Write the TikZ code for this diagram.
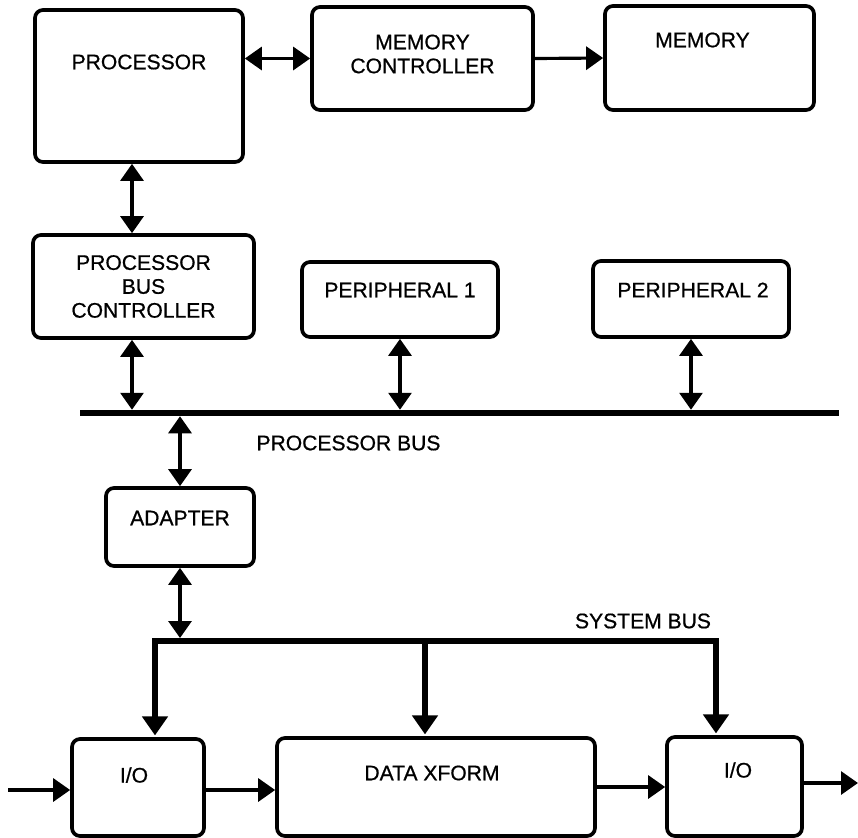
\documentclass[tikz,border=0pt]{standalone}
\usepackage{fontspec}
\setmainfont{Liberation Sans}[FakeBold=0.7]
\usetikzlibrary{positioning,calc,arrows.meta}

\begin{document}
\begin{tikzpicture}[
        box/.style={rectangle, draw=black, line width=2.1pt, rounded corners=0.16cm, inner sep=0pt},
        every label/.style={font=\fontsize{12}{13.6}\selectfont, inner sep=0pt, align=center},
        buslabel/.style={font=\fontsize{12}{13.6}\selectfont, inner sep=0pt},
        arrow/.style={-{Triangle[length=0.34cm, width=0.46cm]}, line width=1.8pt},
        biarrow/.style={{Triangle[length=0.34cm, width=0.46cm]}-{Triangle[length=0.34cm, width=0.46cm]}, line width=1.8pt},
        bus/.style={line width=3.7pt},
        sysbus/.style={line width=3.4pt},
        sysarrow/.style={-{Triangle[length=0.38cm, width=0.5cm]}, line width=3.4pt}
        ]
        \useasboundingbox (0,0) rectangle (17.16,-16.76);

        % Top row: processor and memory
        \node[box, minimum width=4.16cm, minimum height=3.04cm, label={[yshift=0.48cm]center:PROCESSOR}] (proc) at (2.78,-1.72) {};
        \node[box, minimum width=4.42cm, minimum height=2.06cm, label={[yshift=0.09cm]center:MEMORY\\CONTROLLER}] (memctrl) at (8.45,-1.17) {};
        \node[box, minimum width=4.18cm, minimum height=2.08cm, label={[yshift=0.36cm, xshift=-0.14cm]center:MEMORY}] (mem) at (14.19,-1.16) {};

        % Processor bus devices
        \node[box, minimum width=4.42cm, minimum height=2.06cm, label={center:PROCESSOR\\BUS\\CONTROLLER}] (pbc) at (2.87,-5.73) {};
        \node[box, minimum width=3.92cm, minimum height=1.5cm, label={[yshift=0.19cm]center:PERIPHERAL 1}] (per1) at (8.0,-5.99) {};
        \node[box, minimum width=3.92cm, minimum height=1.52cm, label={[yshift=0.18cm, xshift=0.04cm]center:PERIPHERAL 2}] (per2) at (13.82,-5.98) {};

        % Processor bus
        \coordinate (pbusL) at (1.6,-8.26);
        \coordinate (pbusR) at (16.78,-8.26);
        \draw[bus] (pbusL) -- (pbusR);
        \node[buslabel] (pbuslabel) at (6.97,-8.86) {PROCESSOR BUS};

        % Adapter
        \node[box, minimum width=2.96cm, minimum height=1.56cm, label={[yshift=0.18cm]center:ADAPTER}] (adapter) at (3.6,-10.54) {};

        % System bus
        \coordinate (sysL) at (3.1,-12.82);
        \coordinate (sysM) at (8.5,-12.82);
        \coordinate (sysR) at (14.32,-12.82);
        \node[buslabel] (sysbuslabel) at (12.86,-12.42) {SYSTEM BUS};

        % Bottom row: data path
        \node[box, minimum width=2.64cm, minimum height=1.94cm, label={[yshift=0.25cm, xshift=-0.08cm]center:I/O}] (io1) at (2.76,-15.75) {};
        \node[box, minimum width=6.36cm, minimum height=1.96cm, label={[yshift=0.28cm, xshift=-0.08cm]center:DATA XFORM}] (xform) at (8.72,-15.74) {};
        \node[box, minimum width=2.7cm, minimum height=1.98cm, label={[yshift=0.33cm, xshift=0.07cm]center:I/O}] (io2) at (14.69,-15.73) {};
        \coordinate (in) at (0.16,-15.8);
        \coordinate (out) at (17.16,-15.66);

        % Connections
        \draw[biarrow] (memctrl.west -| proc.east) -- (memctrl.west);
        \draw[arrow] (memctrl.east) -- (mem.west);
        \draw[biarrow] ([xshift=-0.14cm]proc.south) -- ([xshift=-0.14cm]proc.south |- pbc.north);
        \draw[biarrow, shorten >=1.85pt] ([xshift=-0.23cm]pbc.south) -- ([xshift=-0.23cm]pbc.south |- pbusL);
        \draw[biarrow, shorten >=1.85pt] (per1.south) -- (per1.south |- pbusL);
        \draw[biarrow, shorten >=1.85pt] (per2.south) -- (per2.south |- pbusL);
        \draw[biarrow, shorten <=1.85pt] (adapter.north |- pbusL) -- (adapter.north);
        \draw[biarrow, shorten >=1.7pt] (adapter.south) -- (adapter.south |- sysL);
        \draw[sysbus, {Triangle[length=0.38cm, width=0.5cm]}-{Triangle[length=0.38cm, width=0.5cm]}, shorten <=1pt, shorten >=1pt] (sysL |- io1.north) -- (sysL) -- (sysR) -- (sysR |- io2.north);
        \draw[sysarrow, shorten >=1pt] (sysM) -- (sysM |- xform.north);
        \draw[arrow] (in) -- (in -| io1.west);
        \draw[arrow] ([yshift=-0.05cm]io1.east) -- ([yshift=-0.05cm]io1.east -| xform.west);
        \draw[arrow] (xform.east) -- (xform.east -| io2.west);
        \draw[arrow] (io2.east |- out) -- (out);

    \end{tikzpicture}
\end{document}
